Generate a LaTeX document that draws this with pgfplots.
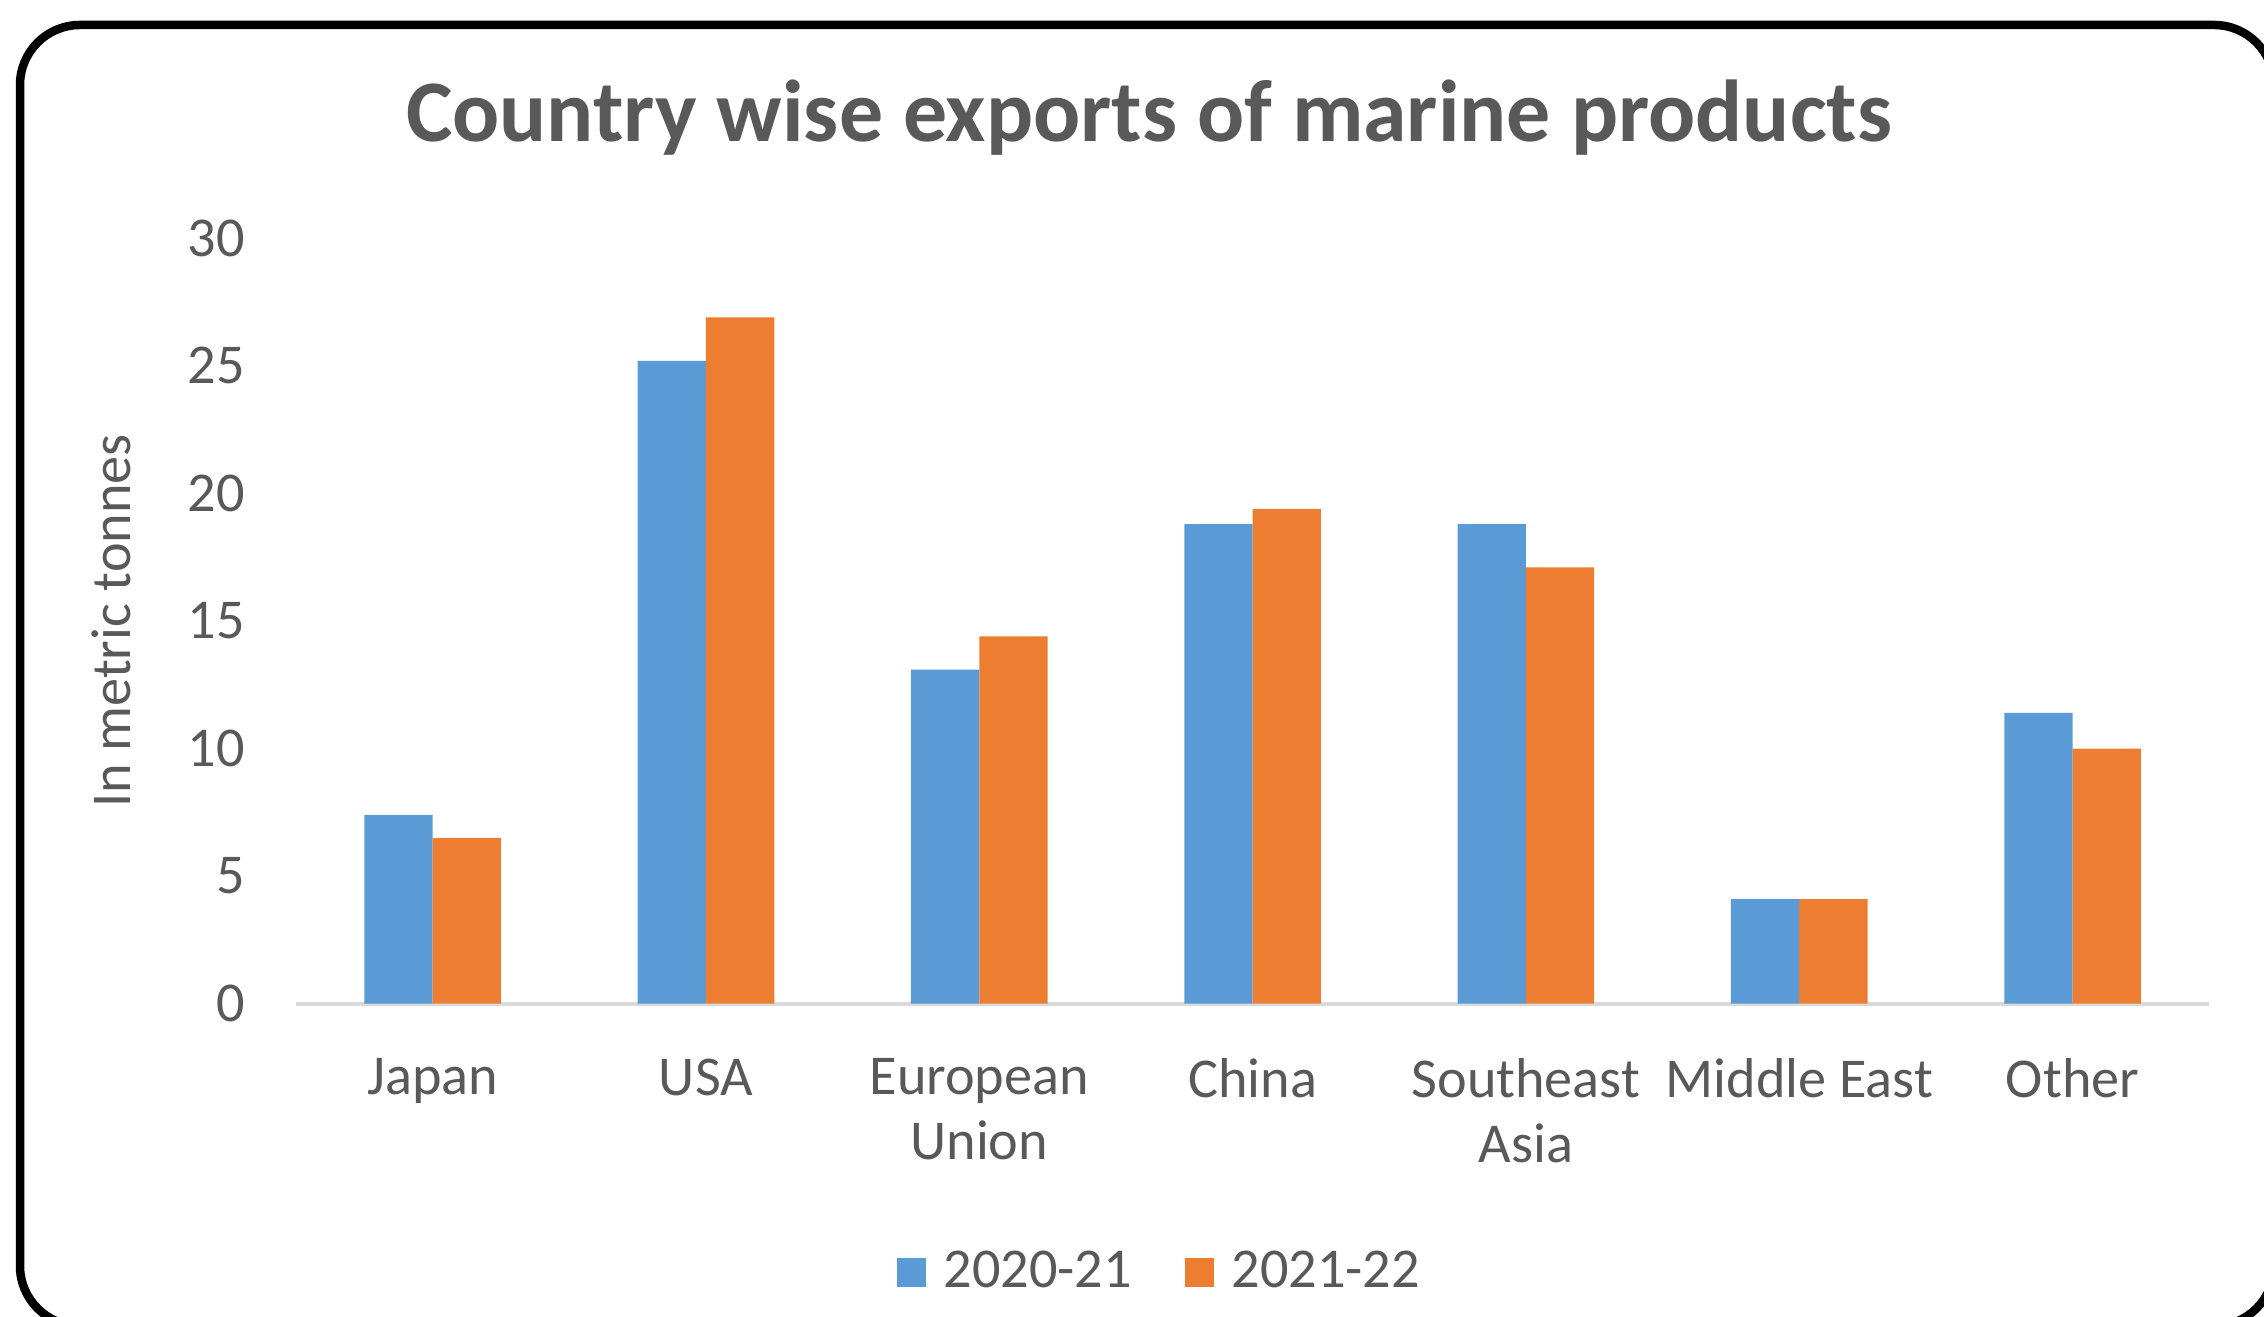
\documentclass[border=0pt]{standalone}
\usepackage{pgfplots}
\pgfplotsset{compat=1.18}
\usepackage{fontspec}
\setmainfont{Carlito}
\definecolor{cblue}{HTML}{5B9BD5}
\definecolor{corange}{HTML}{ED7D31}
\definecolor{ctext}{HTML}{595959}
\definecolor{cbase}{HTML}{D9D9D9}
\begin{document}
\begin{tikzpicture}
\useasboundingbox (0,0) rectangle (226.4mm,131.7mm);
\begin{scope}
\clip (0,0) rectangle (226.4mm,131.7mm);
\draw[line width=0.85mm, rounded corners=6mm] (2.0mm,-0.9mm) rectangle (227.4mm,129.2mm);
\end{scope}
\begin{axis}[
  at={(29.60mm,31.33mm)}, anchor=south west,
  width=191.32mm, height=76.53mm, scale only axis,
  xmin=-0.5, xmax=6.5, ymin=0, ymax=30,
  ybar=0pt, bar width=6.83mm,
  xtick={0,1,2,3,4,5,6},
  xticklabels={Japan, USA, European\\Union, China, Southeast\\Asia, Middle East, Other},
  ytick={0,5,10,15,20,25,30},
  axis lines*=left,
  x axis line style={-, draw=cbase, line width=0.4mm},
  y axis line style={draw=none},
  major tick length=0pt,
  tick style={draw=none},
  tick label style={font=\fontsize{16}{18.4}\selectfont, color=ctext},
  /pgf/number format/assume math mode=true,
  yticklabel style={anchor=east, inner sep=0pt, xshift=-5.05mm},
  xticklabel style={anchor=north, inner sep=0pt, yshift=-5.45mm, align=center},
  ylabel={In metric tonnes},
  ylabel style={at={(axis description cs:-0.0967,0.5)}, anchor=center, font=\fontsize{16}{18.4}\selectfont, color=ctext},
  title={Country wise exports of marine products},
  title style={at={(axis description cs:0.4459,1.099)}, anchor=base, font=\bfseries\fontsize{25}{30}\selectfont, color=ctext},
  legend image code/.code={\fill[#1,/tikz/.cd] (0mm,-1.45mm) rectangle (2.9mm,1.45mm);},
  legend style={draw=none, fill=none, at={(0.4509,-0.3508)}, anchor=center,
    legend columns=2, font=\fontsize{16}{18.4}\selectfont, text=ctext, inner sep=0pt,
    /tikz/every odd column/.append style={column sep=1.73mm},
    /tikz/every even column/.append style={column sep=5.34mm},
    nodes={inner sep=0pt}},
]
\addplot[fill=cblue, draw=none] coordinates {(0,7.4) (1,25.2) (2,13.1) (3,18.8) (4,18.8) (5,4.1) (6,11.4)};
\addlegendentry{2020-21}
\addplot[fill=corange, draw=none] coordinates {(0,6.5) (1,26.9) (2,14.4) (3,19.4) (4,17.1) (5,4.1) (6,10.0)};
\addlegendentry{2021-22}
\end{axis}
\end{tikzpicture}
\end{document}
